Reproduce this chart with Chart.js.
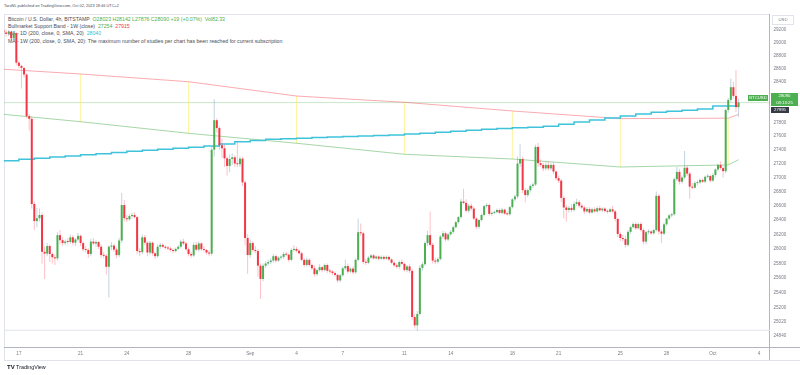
<!DOCTYPE html>
<html>
<head>
<meta charset="utf-8">
<title>BTCUSD 4h</title>
<script src="https://cdn.jsdelivr.net/npm/chart.js@4.4.1/dist/chart.umd.min.js"></script>
<style>
  html, body { margin: 0; padding: 0; background: #fff; }
  #wrap { position: relative; width: 800px; height: 375px; overflow: hidden; font-family: 'Liberation Sans', Arial, sans-serif; }
  #chart { position: absolute; left: 0; top: 0; }
  .txt { position: absolute; white-space: nowrap; color: #4a4d57; }
  .hdr { left: 4px; top: 3px; font-size: 3.9px; line-height: 5px; }
  .lg { left: 8px; font-size: 5.2px; line-height: 6px; }
  .up { color: #4caf50; }
  .dn { color: #f23645; }
  .ma { color: #26c6da; }
  .tag { position: absolute; color: #fff; text-align: center; font-size: 4.3px; white-space: nowrap; }
  .foot { left: 7px; top: 364px; font-size: 5.4px; line-height: 7px; color: #131722; }
</style>
</head>
<body>
<div id="wrap">
  <div class="txt hdr">TaroNL published on TradingView.com, Oct 02, 2023 18:46 UTC+2</div>
  <div class="txt lg" style="top:16px">Bitcoin / U.S. Dollar, 4h, BITSTAMP &nbsp;<span class="up">O28023 H28142 L27876 C28090 +19 (+0.07%)</span> &nbsp;<span class="up">Vol82.33</span></div>
  <div class="txt lg" style="top:22.7px">Bullmarket Support Band - 1W (close) &nbsp;<span class="up">27254</span> &nbsp;<span class="dn">27915</span></div>
  <div class="txt lg" style="top:30.2px">MA - 1D (200, close, 0, SMA, 20) &nbsp;<span class="ma">28040</span></div>
  <div class="txt lg" style="top:37.6px">MA - 1W (200, close, 0, SMA, 20): The maximum number of studies per chart has been reached for current subscription</div>
  <canvas id="chart" width="800" height="375"></canvas>
  <div class="txt" style="left:772px;top:15px;width:20px;height:8px;border:1px solid #e0e3eb;font-size:4.3px;line-height:8px;text-align:center;color:#787b86">USD</div>
  <div class="tag" style="left:748px;top:94.6px;width:20px;height:6.4px;line-height:6.4px;background:#4caf50">BTCUSD</div>
  <div class="tag" style="left:771px;top:93.4px;width:27px;height:12.8px;background:#4caf50;line-height:6.2px">28090<br>03:13:25</div>
  <div class="tag" style="left:771px;top:106.6px;width:18px;height:6px;line-height:6px;background:#363a45">27995</div>
  <div class="txt foot"><b style="font-size:6px">TV</b> TradingView</div>
</div>
<script>
// 4h candles, Aug 16 2023 02:00 (UTC+2) .. Oct 2 2023 18:00
const firstCandle = '2023-08-16';

const opens = [
  29180,29150,29130,29160,29060,29140,28690,28640,28610,28510,
  27890,27850,26625,26385,26425,26470,25960,25935,26040,25930,
  25885,25870,26190,26120,26080,26100,26095,26160,26085,26130,
  26180,26080,25995,25985,25930,26100,26075,26095,26030,25915,
  25905,25755,26030,26045,25990,25915,26115,26610,26425,26410,
  26455,26470,26440,25970,25955,26160,26085,25950,26085,25940,
  25900,26030,26055,26030,26015,26005,25985,25970,26000,26030,
  26100,26075,25995,25930,25910,26055,25990,26075,25995,25985,
  25950,25935,27400,27830,27715,27465,27420,27275,27165,27265,
  27290,27200,27190,27270,26930,26150,25915,26080,25985,25970,
  25770,25590,25770,25800,25820,25840,25900,25840,25880,25890,
  25930,25920,25850,25985,26000,25975,25940,25850,25780,25850,
  25780,25735,25655,25710,25750,25710,25780,25700,25690,25670,
  25645,25570,25640,25735,25765,25690,25730,25680,25850,26230,
  26215,25820,25810,25880,25910,25870,25895,25865,25890,25865,
  25890,25855,25810,25775,25755,25820,25795,25710,25760,25700,
  25080,24970,25120,25740,25790,26080,26190,26055,25840,25825,
  25860,26170,26215,26130,26200,26235,26300,26370,26440,26660,
  26640,26530,26600,26560,26420,26305,26400,26470,26595,26610,
  26485,26500,26510,26540,26500,26545,26490,26480,26580,26690,
  26730,27200,27265,26820,26750,26820,26880,26900,27440,27205,
  27180,27130,27180,27130,27180,27085,26990,26955,26710,26575,
  26540,26570,26540,26625,26650,26600,26575,26520,26555,26505,
  26550,26520,26565,26535,26560,26525,26515,26550,26520,26415,
  26205,26150,26135,26055,26235,26300,26345,26285,26345,26260,
  26100,26230,26240,26215,26260,26740,26240,26210,26340,26420,
  26465,26480,26975,27080,26940,27000,27140,27055,26870,26855,
  26920,26930,26965,26940,27010,27020,26955,27035,27115,27180,
  27135,27090,27980,28130,28320,28190,28023
];

const highs = [
  29240,29200,29190,29180,29160,29160,28720,28660,28620,28530,
  27920,27880,26660,26570,26560,26500,26030,26080,26060,25950,
  25920,26230,26260,26160,26130,26150,26200,26190,26150,26220,
  26200,26100,26040,26010,26140,26150,26120,26110,26060,25960,
  25930,26050,26090,26070,26020,26150,26780,26680,26470,26480,
  26500,26510,26460,26010,26200,26190,26110,26110,26100,25960,
  26060,26080,26080,26050,26040,26030,26010,26020,26050,26130,
  26140,26100,26020,25960,26090,26090,26100,26090,26040,26000,
  25980,27450,28140,27860,27740,27560,27470,27300,27330,27340,
  27320,27520,27300,27300,26960,26200,26130,26110,26040,26000,
  25800,25800,25830,25850,25870,25930,25920,25900,25910,25960,
  25960,25940,26010,26050,26030,26000,25960,25870,25880,25870,
  25800,25770,25730,25790,25770,25800,25800,25730,25710,25690,
  25660,25660,25760,25850,25800,25750,25760,25870,26420,26350,
  26240,25860,25900,25930,25930,25910,25910,25910,25910,25910,
  25910,25870,25830,25800,25840,25850,25810,25780,25790,25730,
  25120,25160,25780,25820,26100,26250,26520,26080,25880,25890,
  26190,26250,26240,26220,26260,26320,26390,26460,26700,26840,
  26690,26620,26630,26590,26440,26410,26490,26610,26640,26630,
  26520,26530,26560,26560,26570,26560,26520,26600,26710,26760,
  27300,27480,27300,26850,26840,26900,26930,27470,27500,27260,
  27210,27220,27230,27210,27220,27100,27030,26980,26740,26610,
  26600,26620,26660,26700,26680,26630,26600,26580,26580,26570,
  26580,26590,26600,26580,26580,26550,26570,26600,26540,26430,
  26230,26190,26180,26260,26320,26370,26370,26360,26370,26280,
  26250,26270,26260,26280,26800,26770,26270,26360,26430,26480,
  26500,27000,27150,27120,27030,27380,27170,27080,26920,26950,
  26960,26990,26990,27030,27050,27040,27060,27130,27200,27230,
  27160,28000,28160,28450,28400,28580,28142
];

const lows = [
  29120,29090,29100,29030,29040,28650,28600,28300,28460,27860,
  27680,26560,26260,26300,26380,25800,25590,25900,25820,25800,
  25780,25840,26060,26040,26050,26060,26070,26050,26040,26100,
  26040,25960,25950,25880,25900,26050,26030,26000,25880,25870,
  25650,25340,25980,25960,25870,25890,26080,26380,26370,26390,
  26420,26420,25930,25900,25930,26050,25900,25920,25910,25860,
  25880,26000,26010,25990,25980,25960,25940,25950,25980,26010,
  26050,25970,25900,25880,25890,25970,25960,25970,25960,25920,
  25900,25910,27300,27650,27400,27280,27150,27030,27080,27180,
  27150,27150,27150,26880,26050,25660,25880,25960,25940,25620,
  25320,25560,25740,25770,25790,25810,25810,25820,25850,25860,
  25900,25820,25830,25960,25950,25920,25830,25750,25760,25760,
  25710,25620,25630,25690,25680,25690,25670,25660,25640,25620,
  25540,25550,25620,25710,25660,25670,25650,25660,25830,26180,
  25790,25780,25790,25860,25850,25850,25840,25850,25840,25850,
  25830,25790,25750,25730,25730,25780,25690,25680,25670,25040,
  24930,24900,25100,25700,25770,26040,26030,25800,25790,25800,
  25840,26140,26100,26110,26180,26210,26280,26350,26420,26620,
  26510,26500,26530,26400,26270,26280,26380,26450,26570,26460,
  26460,26480,26490,26480,26480,26470,26460,26460,26560,26660,
  26700,27150,26780,26650,26720,26790,26850,26880,27150,27150,
  27090,27100,27100,27100,27050,26960,26920,26650,26420,26380,
  26500,26510,26520,26600,26570,26550,26480,26500,26480,26490,
  26500,26500,26520,26510,26500,26490,26500,26500,26380,26160,
  26110,26100,26020,26030,26210,26280,26260,26270,26240,26060,
  26060,26200,26190,26200,26240,26200,26080,26190,26320,26400,
  26440,26460,26950,26900,26910,26980,27020,26700,26830,26840,
  26890,26910,26920,26920,26990,26930,26940,27010,27090,27110,
  27000,27060,27940,28100,28150,27950,27876
];

const closes = [
  29150,29130,29160,29060,29140,28690,28640,28610,28510,27890,
  27850,26625,26385,26425,26470,25960,25935,26040,25930,25885,
  25870,26190,26120,26080,26100,26095,26160,26085,26130,26180,
  26080,25995,25985,25930,26100,26075,26095,26030,25915,25905,
  25755,26030,26045,25990,25915,26115,26610,26425,26410,26455,
  26470,26440,25970,25955,26160,26085,25950,26085,25940,25900,
  26030,26055,26030,26015,26005,25985,25970,26000,26030,26100,
  26075,25995,25930,25910,26055,25990,26075,25995,25985,25950,
  25935,27400,27830,27715,27465,27420,27275,27165,27265,27290,
  27200,27190,27270,26930,26150,25915,26080,25985,25970,25770,
  25590,25770,25800,25820,25840,25900,25840,25880,25890,25930,
  25920,25850,25985,26000,25975,25940,25850,25780,25850,25780,
  25735,25655,25710,25750,25710,25780,25700,25690,25670,25645,
  25570,25640,25735,25765,25690,25730,25680,25850,26230,26215,
  25820,25810,25880,25910,25870,25895,25865,25890,25865,25890,
  25855,25810,25775,25755,25820,25795,25710,25760,25700,25080,
  24970,25120,25740,25790,26080,26190,26055,25840,25825,25860,
  26170,26215,26130,26200,26235,26300,26370,26440,26660,26640,
  26530,26600,26560,26420,26305,26400,26470,26595,26610,26485,
  26500,26510,26540,26500,26545,26490,26480,26580,26690,26730,
  27200,27265,26820,26750,26820,26880,26900,27440,27205,27180,
  27130,27180,27130,27180,27085,26990,26955,26710,26575,26540,
  26570,26540,26625,26650,26600,26575,26520,26555,26505,26550,
  26520,26565,26535,26560,26525,26515,26550,26520,26415,26205,
  26150,26135,26055,26235,26300,26345,26285,26345,26260,26100,
  26230,26240,26215,26260,26740,26240,26210,26340,26420,26465,
  26480,26975,27080,26940,27000,27140,27055,26870,26855,26920,
  26930,26965,26940,27010,27020,26955,27035,27115,27180,27135,
  27090,27980,28130,28320,28190,28023,28090
];

// MA - 1D (200) daily values, Aug 16 .. Oct 2
const maStart = '2023-08-16';
const ma1d = [
  27216,27239,27261,27277,27293,27309,27325,27342,27360,27376,
  27390,27405,27421,27434,27454,27483,27515,27534,27551,27560,
  27567,27575,27583,27591,27599,27607,27614,27627,27640,27655,
  27668,27683,27697,27710,27718,27728,27743,27772,27804,27832,
  27862,27891,27921,27946,27962,27977,27995,28040
];

// Bull market support band, weekly points (last value = current bar)
const bandWeeks = ['2023-08-14','2023-08-21','2023-08-28','2023-09-04','2023-09-11','2023-09-18','2023-09-25','2023-10-02'];
const bandUpper = [28619,28518,28402,28188,28095,27966,27853,27860];
const bandLower = [27960,27808,27638,27493,27333,27265,27150,27180];
const bandUpperNow = 27915;
const bandLowerNow = 27254;

const lastPrice = 28090;
const lowLevel = 24905;

const xTickDates = ['2023-08-17','2023-08-21','2023-08-24','2023-08-28','2023-09-01','2023-09-04','2023-09-07',
  '2023-09-11','2023-09-14','2023-09-18','2023-09-21','2023-09-25','2023-09-28','2023-10-01','2023-10-04'];
const xTickLabels = ['17','21','24','28','Sep','4','7','11','14','18','21','25','28','Oct','4'];
const yTicks = [29200,29000,28800,28600,28400,27800,27600,27400,27200,27000,26800,26600,26400,26200,
  26000,25800,25600,25400,25200,25020,24840];

const X_MIN = 0.117, X_MAX = 49.79;
const Y_MIN = 24686, Y_MAX = 29437;

const UP = '#4caf50', DOWN = '#f23645';
const UP_WICK = 'rgba(120,160,190,0.45)', DOWN_WICK = 'rgba(242,54,69,0.3)';
const FONT = "'Liberation Sans', Arial, sans-serif";

// day offset from Aug 16 00:00, bars open at 02:00 local (00:00 UTC)
const t0 = Date.UTC(2023, 7, 16);
const dayOf = (s) => (Date.parse(s + 'T00:00:00Z') - t0) / 864e5 + 2 / 24;

const candleX = closes.map((_, i) => dayOf(firstCandle) + i * 4 / 24);
const lastX = candleX[candleX.length - 1];
const isUp = closes.map((c, i) => c >= opens[i]);

const maPoints = ma1d.map((v, i) => ({ x: dayOf(maStart) + i, y: v }));
maPoints.push({ x: lastX, y: ma1d[ma1d.length - 1] });

const weekX = bandWeeks.map(dayOf);
const upperPoints = bandUpper.map((v, i) => ({ x: weekX[i], y: v })).concat([{ x: lastX, y: bandUpperNow }]);
const lowerPoints = bandLower.map((v, i) => ({ x: weekX[i], y: v })).concat([{ x: lastX, y: bandLowerNow }]);

const framePlugin = {
  id: 'frame',
  beforeDatasetsDraw(chart) {
    const { ctx, chartArea: a } = chart;
    ctx.save();
    ctx.lineWidth = 1;
    ctx.strokeStyle = '#e0e3eb';
    ctx.beginPath();
    ctx.moveTo(a.left + 0.5, a.top + 0.5); ctx.lineTo(a.right, a.top + 0.5);
    ctx.moveTo(a.left + 0.5, a.top); ctx.lineTo(a.left + 0.5, 360);
    ctx.moveTo(a.left, 360.5); ctx.lineTo(800, 360.5);
    ctx.stroke();
    ctx.strokeStyle = '#b2b5be';
    ctx.beginPath();
    ctx.moveTo(a.left, a.bottom + 0.5); ctx.lineTo(800, a.bottom + 0.5);
    ctx.moveTo(a.right - 0.5, a.top); ctx.lineTo(a.right - 0.5, 360);
    ctx.stroke();
    ctx.restore();
  }
};

new Chart(document.getElementById('chart'), {
  type: 'bar',
  data: {
    datasets: [
      {
        label: 'bodies',
        data: candleX.map((x, i) => ({ x, y: [opens[i], closes[i]] })),
        backgroundColor: isUp.map(u => u ? UP : DOWN),
        barThickness: 2, maxBarThickness: 2, minBarLength: 1,
        grouped: false, inflateAmount: 0, order: 0
      },
      {
        label: 'wicks',
        data: candleX.map((x, i) => ({ x, y: [lows[i], highs[i]] })),
        backgroundColor: isUp.map(u => u ? UP_WICK : DOWN_WICK),
        barThickness: 1, maxBarThickness: 1,
        grouped: false, inflateAmount: 0, order: 1
      },
      {
        type: 'line', label: 'MA 1D',
        data: maPoints, stepped: 'after',
        borderColor: '#3ec3da', borderWidth: 1.5, pointRadius: 0, order: 2
      },
      {
        type: 'line', label: 'band upper',
        data: upperPoints,
        borderColor: 'rgba(242,54,69,0.42)', borderWidth: 1, pointRadius: 0, tension: 0, order: 3
      },
      {
        type: 'line', label: 'band lower',
        data: lowerPoints,
        borderColor: 'rgba(76,175,80,0.5)', borderWidth: 1, pointRadius: 0, tension: 0, order: 4
      },
      {
        label: 'band joins',
        data: weekX.map((x, i) => ({ x, y: [bandLower[i], bandUpper[i]] })),
        backgroundColor: 'rgba(255,235,80,0.55)',
        barThickness: 1, maxBarThickness: 1,
        grouped: false, inflateAmount: 0, order: 5
      },
      {
        type: 'line', label: 'last price',
        data: [{ x: X_MIN, y: lastPrice }, { x: X_MAX, y: lastPrice }],
        borderColor: 'rgba(76,175,80,0.3)', borderWidth: 1, pointRadius: 0, order: 6
      },
      {
        type: 'line', label: 'low level',
        data: [{ x: X_MIN, y: lowLevel }, { x: X_MAX, y: lowLevel }],
        borderColor: '#e0e3eb', borderWidth: 1, pointRadius: 0, order: 7
      }
    ]
  },
  options: {
    responsive: false,
    animation: false,
    devicePixelRatio: 1,
    layout: { padding: { left: 4, top: 14, right: 0, bottom: 15 } },
    plugins: { legend: { display: false }, tooltip: { enabled: false } },
    scales: {
      x: {
        type: 'linear', min: X_MIN, max: X_MAX, offset: false, bounds: 'data',
        grid: { display: false, drawTicks: false }, border: { display: false },
        afterBuildTicks: (ax) => { ax.ticks = xTickDates.map(d => ({ value: dayOf(d) })); },
        afterFit: (ax) => { ax.height = 13; },
        ticks: {
          autoSkip: false, maxRotation: 0, padding: 3.5, color: '#787b86',
          font: { size: 4.6, family: FONT },
          callback: (v, i) => xTickLabels[i]
        }
      },
      y: {
        type: 'logarithmic', position: 'right', min: Y_MIN, max: Y_MAX, bounds: 'data', beginAtZero: false,
        grid: { display: false, drawTicks: false }, border: { display: false },
        afterBuildTicks: (ax) => { ax.ticks = yTicks.map(v => ({ value: v })); },
        afterFit: (ax) => { ax.width = 30; },
        ticks: {
          autoSkip: false, padding: 3.5, color: '#787b86',
          font: { size: 4.6, family: FONT },
          callback: (v) => String(v)
        }
      }
    }
  },
  plugins: [framePlugin]
});
</script>
</body>
</html>
